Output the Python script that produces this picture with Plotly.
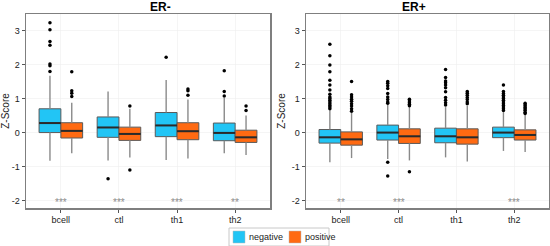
import plotly.graph_objects as go

categories = ["bcell", "ctl", "th1", "th2"]
groups = ["negative", "positive"]
panels = ["ER-", "ER+"]

# ER- negative
erm_neg_q1 = [0.00, -0.14, -0.12, -0.24]
erm_neg_med = [0.28, 0.15, 0.21, -0.01]
erm_neg_q3 = [0.70, 0.46, 0.59, 0.28]
erm_neg_lo = [-0.83, -0.82, -0.81, -0.61]
erm_neg_hi = [1.67, 1.21, 1.55, 1.02]
erm_neg_out = [[3.23, 3.03, 2.68, 2.57, 2.02, 1.97, 1.80], [-1.36], [2.22], [1.82, 1.21, 1.08]]

# ER- positive
erm_pos_q1 = [-0.16, -0.23, -0.21, -0.29]
erm_pos_med = [0.05, -0.04, 0.04, -0.14]
erm_pos_q3 = [0.29, 0.16, 0.29, 0.07]
erm_pos_lo = [-0.61, -0.73, -0.76, -0.66]
erm_pos_hi = [0.88, 0.70, 0.97, 0.50]
erm_pos_out = [[1.79, 1.23, 1.16, 1.06], [0.78, -1.10], [1.28, 1.23, 1.10], [0.78, 0.65]]

# ER+ negative
erp_neg_q1 = [-0.31, -0.22, -0.30, -0.15]
erp_neg_med = [-0.14, 0.00, -0.11, 0.00]
erp_neg_q3 = [0.09, 0.22, 0.13, 0.16]
erp_neg_lo = [-0.87, -0.78, -0.73, -0.54]
erp_neg_hi = [0.66, 0.83, 0.75, 0.60]
erp_neg_out = [
    [2.60, 2.26, 1.99, 1.79, 1.54, 1.40, 1.25, 1.13, 1.05, 1.00, 0.95, 0.90, 0.85, 0.80, 0.75, 0.70],
    [1.50, 1.45, 1.38, 1.30, 1.15, 1.05, 0.97, 0.90, 0.86, -0.87, -1.28],
    [1.86, 1.62, 1.52, 1.47, 1.40, 1.32, 1.20, 1.03, 0.95, 0.88, 0.81],
    [1.40, 1.21, 1.15, 1.10, 1.05, 1.00, 0.95, 0.90, 0.85, 0.80, 0.75, 0.70, 0.65],
]

# ER+ positive
erp_pos_q1 = [-0.37, -0.32, -0.34, -0.22]
erp_pos_med = [-0.20, -0.11, -0.14, -0.07]
erp_pos_q3 = [0.02, 0.11, 0.11, 0.08]
erp_pos_lo = [-0.75, -0.82, -0.85, -0.57]
erp_pos_hi = [0.58, 0.75, 0.78, 0.53]
erp_pos_out = [
    [1.50, 1.11, 1.05, 0.98, 0.92, 0.85, 0.78, 0.70, 0.63],
    [0.98, 0.93, 0.88, 0.83, 0.79, -1.15],
    [1.21, 1.16, 1.10, 1.03, 0.97, 0.90, 0.85],
    [0.86, 0.82, 0.78, 0.74, 0.70, 0.66, 0.60, 0.56],
]

erm_stars = ["***", "***", "***", "**"]
erp_stars = ["**", "***", "", "***"]

y_ticks = [-2, -1, 0, 1, 2, 3]

colors = {"negative": "#22C5F5", "positive": "#FF6A12"}
BOX_W = 0.375
OFFSET = {"negative": -0.1875, "positive": 0.1875}

data = {
    ("ER-", "negative"): (erm_neg_q1, erm_neg_med, erm_neg_q3, erm_neg_lo, erm_neg_hi, erm_neg_out),
    ("ER-", "positive"): (erm_pos_q1, erm_pos_med, erm_pos_q3, erm_pos_lo, erm_pos_hi, erm_pos_out),
    ("ER+", "negative"): (erp_neg_q1, erp_neg_med, erp_neg_q3, erp_neg_lo, erp_neg_hi, erp_neg_out),
    ("ER+", "positive"): (erp_pos_q1, erp_pos_med, erp_pos_q3, erp_pos_lo, erp_pos_hi, erp_pos_out),
}
stars = {"ER-": erm_stars, "ER+": erp_stars}

W, H = 550, 246
fig = go.Figure()
FONT = "Liberation Sans, Arial, sans-serif"

for pi, panel in enumerate(panels):
    xa = "x" if pi == 0 else "x2"
    ya = "y" if pi == 0 else "y2"
    for g in groups:
        q1, med, q3, lo, hi, outs = data[(panel, g)]
        pos = [i + OFFSET[g] for i in range(len(categories))]
        # whiskers
        wx, wy = [], []
        for p, a, b, c, d in zip(pos, lo, q1, q3, hi):
            wx += [p, p, None, p, p, None]
            wy += [a, b, None, c, d, None]
        fig.add_trace(go.Scatter(x=wx, y=wy, mode="lines", line=dict(color="#8a8a8a", width=1.4),
                                 xaxis=xa, yaxis=ya, showlegend=False, hoverinfo="skip"))
        # boxes
        fig.add_trace(go.Box(x=pos, q1=q1, median=med, q3=q3, lowerfence=q1, upperfence=q3,
                             width=BOX_W, fillcolor=colors[g], line=dict(color="#5a5a5a", width=1),
                             whiskerwidth=0, boxpoints=False, name=g,
                             showlegend=False, xaxis=xa, yaxis=ya, hoverinfo="skip"))
        # medians
        mx, my = [], []
        for p, m in zip(pos, med):
            mx += [p - BOX_W / 2, p + BOX_W / 2, None]
            my += [m, m, None]
        fig.add_trace(go.Scatter(x=mx, y=my, mode="lines", line=dict(color="#2a2a2a", width=2),
                                 xaxis=xa, yaxis=ya, showlegend=False, hoverinfo="skip"))
        # outliers
        ox, oy = [], []
        for p, o in zip(pos, outs):
            ox += [p] * len(o)
            oy += o
        fig.add_trace(go.Scatter(x=ox, y=oy, mode="markers", marker=dict(color="black", size=3.5),
                                 xaxis=xa, yaxis=ya, showlegend=False, hoverinfo="skip"))
    for i, s in enumerate(stars[panel]):
        if s:
            fig.add_annotation(x=i, y=-2.07, text=s, showarrow=False, xref=xa, yref=ya,
                               font=dict(size=10, color="#8c8c8c", family=FONT))

axis_common = dict(showline=True, mirror=True, linecolor="#7f7f7f", linewidth=1.5,
                   showgrid=True, gridcolor="#eeeeee", gridwidth=0.6, zeroline=False,
                   ticks="outside", ticklen=3, tickcolor="#555555", automargin=False,
                   tickfont=dict(size=9, color="#222222", family=FONT))

xaxis_cfg = dict(axis_common, range=[-0.6, 3.6], tickvals=list(range(len(categories))),
                 ticktext=categories)
yaxis_cfg = dict(axis_common, range=[-2.22, 3.49], tickvals=y_ticks,
                 ticktext=[str(t) for t in y_ticks],
                 title=dict(text="Z-Score", font=dict(size=10, color="#222222", family=FONT), standoff=4))

fig.update_layout(
    width=W, height=H,
    margin=dict(l=0, r=0, t=0, b=0, autoexpand=False),
    paper_bgcolor="white", plot_bgcolor="white",
    font=dict(family=FONT),
    xaxis=dict(xaxis_cfg, domain=[26 / W, 270 / W], anchor="y"),
    yaxis=dict(yaxis_cfg, domain=[1 - 208 / H, 1 - 14 / H], anchor="x"),
    xaxis2=dict(xaxis_cfg, domain=[306 / W, 549 / W], anchor="y2"),
    yaxis2=dict(yaxis_cfg, domain=[1 - 208 / H, 1 - 14 / H], anchor="x2"),
    boxmode="overlay",
    showlegend=False,
    hovermode=False,
)

for pi, panel in enumerate(panels):
    dom = [26 / W, 270 / W] if pi == 0 else [306 / W, 549 / W]
    fig.add_annotation(x=(dom[0] + dom[1]) / 2, y=1 - 7 / H, xref="paper", yref="paper",
                       text="<b>" + panel + "</b>", showarrow=False, yanchor="middle",
                       font=dict(size=12, color="black", family=FONT))

# legend drawn as shapes + text
fig.add_shape(type="rect", xref="paper", yref="paper", x0=229 / W, x1=329 / W,
              y0=1 - 246 / H, y1=1 - 228 / H, line=dict(color="#c8c8c8", width=1), fillcolor="white")
leg_x = {"negative": 233, "positive": 289}
for g in groups:
    x0 = leg_x[g]
    fig.add_shape(type="rect", xref="paper", yref="paper", x0=x0 / W, x1=(x0 + 12) / W,
                  y0=1 - 243 / H, y1=1 - 231 / H, line=dict(color="#bbbbbb", width=0.5),
                  fillcolor=colors[g])
    fig.add_annotation(x=(x0 + 14) / W, y=1 - 237 / H, xref="paper", yref="paper", text=g,
                       showarrow=False, xanchor="left", yanchor="middle",
                       font=dict(size=9, color="#222222", family=FONT))

fig.write_html("out.html", config={"displayModeBar": False, "staticPlot": True},
               post_script="document.body.style.margin='0';document.body.style.padding='0';")
